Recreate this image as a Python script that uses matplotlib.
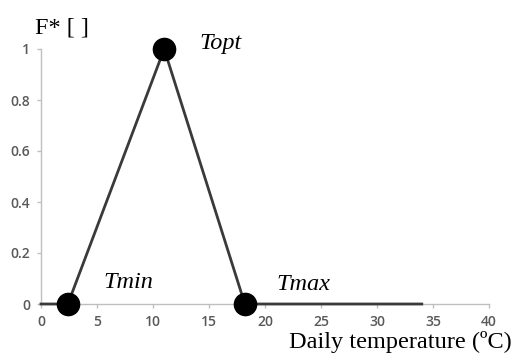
import matplotlib
matplotlib.use("Agg")
import matplotlib.pyplot as plt

# Data
temp_x = [0, 2.4, 11.0, 18.2, 34.0]
f_star = [0, 0, 1, 0, 0]
marker_x = [2.4, 11.0, 18.2]
marker_y = [0, 1, 0]
marker_labels = ["Tmin", "Topt", "Tmax"]
x_ticks = [0, 5, 10, 15, 20, 25, 30, 35, 40]
y_ticks = [0, 0.2, 0.4, 0.6, 0.8, 1]
y_tick_labels = ["0", "0.2", "0.4", "0.6", "0.8", "1"]

fig = plt.figure(figsize=(5.13, 3.57), dpi=100)
ax = fig.add_axes([41/513, 1-304/357, (489-41)/513, (304-49)/357])

ax.plot(temp_x, f_star, color="#3a3a3a", lw=2.0, zorder=3, clip_on=False)
ax.plot(marker_x, marker_y, 'o', color="black", ms=16, zorder=4, clip_on=False)

ax.set_xlim(0, 40)
ax.set_ylim(0, 1)
ax.set_xticks(x_ticks)
ax.set_yticks(y_ticks)
ax.set_yticklabels(y_tick_labels)

for s in ["top", "right"]:
    ax.spines[s].set_visible(False)
for s in ["left", "bottom"]:
    ax.spines[s].set_color("#bfbfbf")
    ax.spines[s].set_linewidth(1.0)
ax.tick_params(axis="both", colors="#bfbfbf", length=3, width=1, direction="out",
               labelcolor="#595959", labelsize=10)
ax.tick_params(axis="y", pad=5)
ax.tick_params(axis="x", pad=5)
for lab in ax.get_xticklabels() + ax.get_yticklabels():
    lab.set_fontfamily("Open Sans")
    lab.set_fontweight("semibold")

serif = "Liberation Serif"
fs = 17.5
fig.text(35/513, 1-28/357, "F* [ ]", fontfamily=serif, fontsize=fs, ha="left", va="center")
fig.text(199/513, 1-43/357, marker_labels[1], fontfamily=serif, style="italic", fontsize=fs, ha="left", va="center")
fig.text(103/513, 1-282/357, marker_labels[0], fontfamily=serif, style="italic", fontsize=fs, ha="left", va="center")
fig.text(276/513, 1-285/357, marker_labels[2], fontfamily=serif, style="italic", fontsize=fs, ha="left", va="center")
fig.text(512/513, 1-342/357, "Daily temperature (ºC)", fontfamily=serif, fontsize=fs, ha="right", va="center")

fig.savefig("out.png", dpi=100)
